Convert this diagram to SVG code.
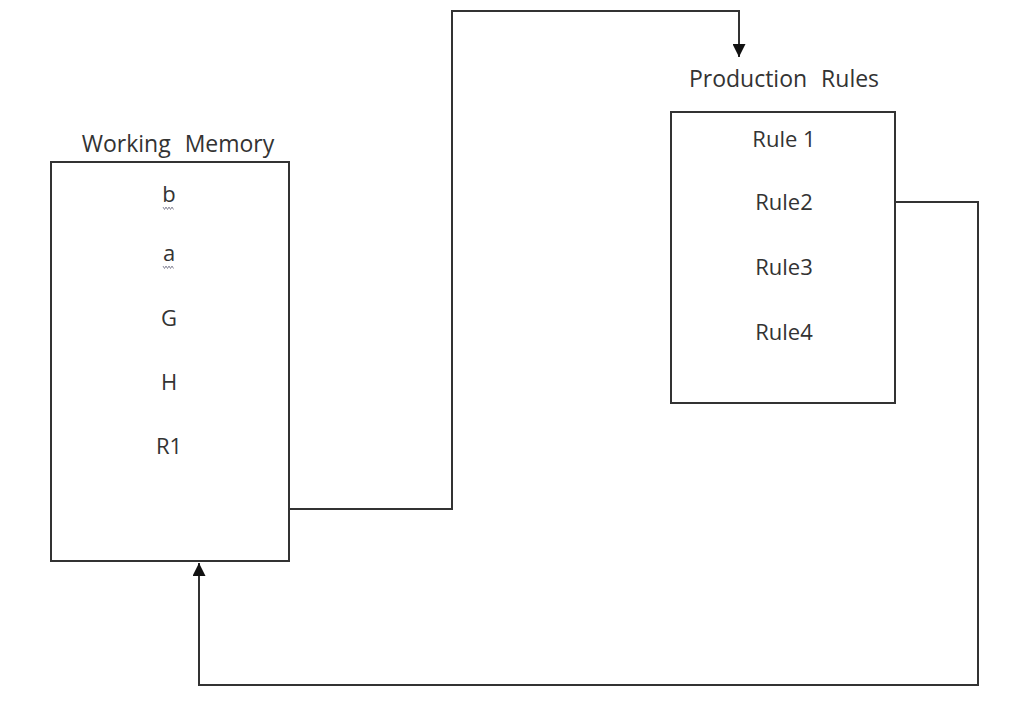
<svg xmlns="http://www.w3.org/2000/svg" width="1018" height="715" viewBox="0 0 1018 715">
<style>
.box{fill:#fff;stroke:#333;stroke-width:2}
.t{font-family:"Open Sans","Liberation Sans",sans-serif;font-size:22px;fill:#333;text-anchor:middle}
.h{font-size:23px;word-spacing:8px}
.c{fill:none;stroke:#333;stroke-width:2}
.sq{fill:none;stroke:#8a8a9a;stroke-width:1}
</style>
<defs>
<marker id="ah" viewBox="0 0 10 10" refX="10" refY="5" markerWidth="6.5" markerHeight="6.5" orient="auto" markerUnits="strokeWidth">
<path d="M0,0 L10,5 L0,10 Z" fill="#111"/>
</marker>
</defs>
<rect width="1018" height="715" fill="#fff"/>
<g id="working-memory">
<text class="t h" x="178" y="152">Working Memory</text>
<rect class="box" x="51" y="162" width="238" height="399"/>
<text class="t" x="169" y="202">b</text>
<path class="sq" d="M163,207 l1.5,2.5 l1.5,-2.5 l1.5,2.5 l1.5,-2.5 l1.5,2.5 l1.5,-2.5 l1.5,2.5"/>
<text class="t" x="169" y="261">a</text>
<path class="sq" d="M163,266 l1.5,2.5 l1.5,-2.5 l1.5,2.5 l1.5,-2.5 l1.5,2.5 l1.5,-2.5 l1.5,2.5"/>
<text class="t" x="169" y="326">G</text>
<text class="t" x="169" y="390">H</text>
<text class="t" x="169" y="454">R1</text>
</g>
<g id="production-rules">
<text class="t h" x="784" y="87">Production Rules</text>
<rect class="box" x="671" y="112" width="224" height="291"/>
<text class="t" x="784" y="147">Rule 1</text>
<text class="t" x="784" y="210">Rule2</text>
<text class="t" x="784" y="275">Rule3</text>
<text class="t" x="784" y="340">Rule4</text>
</g>
<g id="connectors">
<path class="c" d="M289,509 H452 V11 H739 V57" marker-end="url(#ah)"/>
<path class="c" d="M895,202 H978 V685 H199 V563" marker-end="url(#ah)"/>
</g>
</svg>
